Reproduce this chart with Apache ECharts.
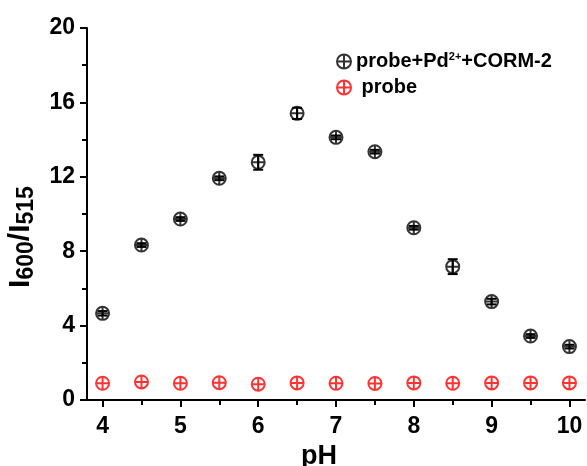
<!DOCTYPE html>
<html>
<head>
<meta charset="utf-8">
<script src="https://cdn.jsdelivr.net/npm/echarts@6/dist/echarts.min.js"></script>
<style>
  html, body { margin: 0; padding: 0; background: #fff; }
  #chart { width: 587px; height: 466px; }
</style>
</head>
<body>
<div id="chart"></div>
<script>
// pH values
const ph = [4, 4.5, 5, 5.5, 6, 6.5, 7, 7.5, 8, 8.5, 9, 9.5, 10];
// I600/I515 ratios
const ratioPdCorm = [4.66, 8.33, 9.73, 11.92, 12.78, 15.41, 14.12, 13.35, 9.26, 7.17, 5.29, 3.44, 2.87];
const errPdCorm = [0.12, 0.1, 0.1, 0.1, 0.4, 0.3, 0.1, 0.1, 0.1, 0.4, 0.15, 0.1, 0.1];
const ratioProbe = [0.9, 0.97, 0.9, 0.93, 0.85, 0.92, 0.9, 0.89, 0.92, 0.9, 0.92, 0.92, 0.92];
// axis ticks
const xTicks = [4, 5, 6, 7, 8, 9, 10];
const xMinorTicks = [4.5, 5.5, 6.5, 7.5, 8.5, 9.5];

const FONT = '"Liberation Sans", Arial, sans-serif';
const RED = '#ff0000';
const marker = 'path://M0,10 A10,10 0 1,1 20,10 A10,10 0 1,1 0,10 Z M10,0 L10,20 M0,10 L20,10';

function pairs(xs, ys) {
  return xs.map((x, i) => [x, ys[i]]);
}

function outline(color) {
  return { color: 'rgba(0,0,0,0)', borderColor: color, borderWidth: 2 };
}

function errorBars(color) {
  return function (params, api) {
    const x = api.value(0);
    const lo = api.coord([x, api.value(1) - api.value(2)]);
    const hi = api.coord([x, api.value(1) + api.value(2)]);
    const w = 5;
    const style = { stroke: color, lineWidth: 2 };
    return {
      type: 'group',
      children: [
        { type: 'line', shape: { x1: lo[0], y1: lo[1], x2: hi[0], y2: hi[1] }, style },
        { type: 'line', shape: { x1: lo[0] - w, y1: lo[1], x2: lo[0] + w, y2: lo[1] }, style },
        { type: 'line', shape: { x1: hi[0] - w, y1: hi[1], x2: hi[0] + w, y2: hi[1] }, style }
      ]
    };
  };
}

const chart = echarts.init(document.getElementById('chart'));

const xBase = {
  type: 'value',
  min: 3.8,
  max: 10.2,
  splitLine: { show: false }
};

const option = {
  animation: false,
  backgroundColor: '#fff',
  textStyle: { fontFamily: FONT },
  grid: { left: 87, right: 2, top: 28, bottom: 66, containLabel: false, outerBoundsMode: 'none' },
  legend: {
    orient: 'vertical',
    left: 331,
    top: 46,
    itemWidth: 14,
    itemHeight: 14,
    itemGap: 6,
    data: [
      { name: 'probe+Pd2++CORM-2', icon: marker, itemStyle: outline('#000') },
      { name: 'probe', icon: marker, itemStyle: outline(RED) }
    ],
    formatter: function (name) {
      if (name === 'probe') return '{a| probe}';
      return '{a|probe+Pd}{sup|2+}{a|+CORM-2}';
    },
    textStyle: {
      rich: {
        a: { fontFamily: FONT, fontWeight: 'bold', fontSize: 20, color: '#000', lineHeight: 21 },
        sup: { fontFamily: FONT, fontWeight: 'bold', fontSize: 11, color: '#000', lineHeight: 21, verticalAlign: 'top' }
      }
    }
  },
  xAxis: [
    Object.assign({}, xBase, {
      name: 'pH',
      nameLocation: 'middle',
      nameGap: 41,
      nameTextStyle: { fontFamily: FONT, fontWeight: 'bold', fontSize: 27, color: '#000', padding: [0, 34, 0, 0] },
      axisLine: { lineStyle: { color: '#000', width: 2 } },
      axisTick: { length: 7, lineStyle: { color: '#000', width: 2 }, customValues: xTicks },
      axisLabel: { margin: 15, fontFamily: FONT, fontWeight: 'bold', fontSize: 23, color: '#000', customValues: xTicks }
    }),
    Object.assign({}, xBase, {
      position: 'bottom',
      axisLine: { show: false },
      axisTick: { length: 5, lineStyle: { color: '#000', width: 2 }, customValues: xMinorTicks },
      axisLabel: { show: false }
    })
  ],
  yAxis: {
    type: 'value',
    min: 0,
    max: 20,
    interval: 4,
    name: '{a|I}{sub|600}{a|/I}{sub|515}',
    nameLocation: 'middle',
    nameGap: 44,
    nameTextStyle: {
      padding: [0, 46, 0, 0],
      rich: {
        a: { fontFamily: FONT, fontWeight: 'bold', fontSize: 30, color: '#000', lineHeight: 36 },
        sub: { fontFamily: FONT, fontWeight: 'bold', fontSize: 23, color: '#000', lineHeight: 36, verticalAlign: 'bottom' }
      }
    },
    splitLine: { show: false },
    axisLine: { show: true, lineStyle: { color: '#000', width: 2 } },
    axisTick: { show: true, length: 7, lineStyle: { color: '#000', width: 2 } },
    minorTick: { show: true, splitNumber: 2, length: 5, lineStyle: { color: '#000', width: 2 } },
    axisLabel: { margin: 12, fontFamily: FONT, fontWeight: 'bold', fontSize: 23, color: '#000' }
  },
  series: [
    {
      type: 'custom',
      name: 'errPdCorm',
      renderItem: errorBars('#000'),
      data: ph.map((x, i) => [x, ratioPdCorm[i], errPdCorm[i]]),
      z: 1
    },
    {
      type: 'scatter',
      name: 'probe+Pd2++CORM-2',
      symbol: marker,
      symbolSize: 13,
      itemStyle: outline('#000'),
      data: pairs(ph, ratioPdCorm),
      z: 2
    },
    {
      type: 'scatter',
      name: 'probe',
      symbol: marker,
      symbolSize: 13,
      itemStyle: outline(RED),
      data: pairs(ph, ratioProbe),
      z: 2
    }
  ]
};

chart.setOption(option);
</script>
</body>
</html>
